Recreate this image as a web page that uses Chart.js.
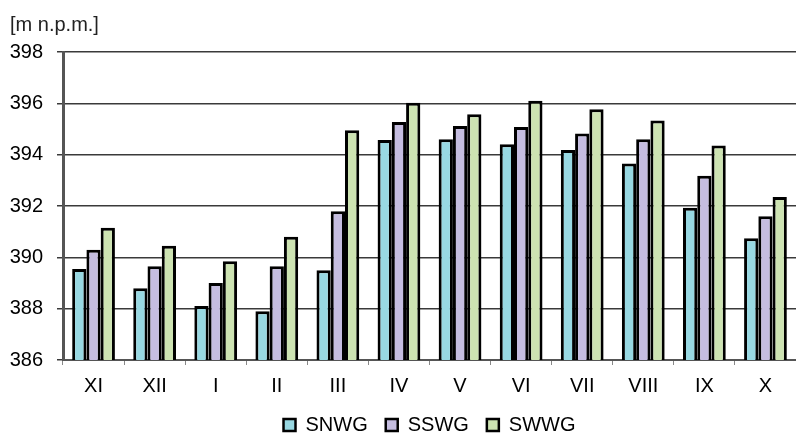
<!DOCTYPE html>
<html lang="pl">
<head>
<meta charset="UTF-8">
<title>Poziom wód</title>
<script src="https://cdn.jsdelivr.net/npm/chart.js"></script>
<style>
  html, body { margin: 0; padding: 0; background: #fff; }
  #wrap { width: 796px; height: 436px; }
</style>
</head>
<body>
<div id="wrap"><canvas id="wykres"></canvas></div>
<script>
  // miesiace roku hydrologicznego
  const miesiace = ['XI', 'XII', 'I', 'II', 'III', 'IV', 'V', 'VI', 'VII', 'VIII', 'IX', 'X'];

  // rzedne zwierciadla [m n.p.m.]
  const snwg = [389.55, 388.8, 388.1, 387.9, 389.5, 394.57, 394.6, 394.41, 394.18, 393.66, 391.93, 390.74];
  const sswg = [390.3, 389.65, 389.0, 389.65, 391.8, 395.27, 395.12, 395.08, 394.82, 394.6, 393.18, 391.6];
  const swwg = [391.15, 390.45, 389.85, 390.8, 394.95, 396.02, 395.57, 396.1, 395.77, 395.33, 394.36, 392.35];

  const czcionka = 'Liberation Sans, Arial, sans-serif';

  new Chart(document.getElementById('wykres'), {
    type: 'bar',
    data: {
      labels: miesiace,
      datasets: [
        { label: 'SNWG', data: snwg, backgroundColor: '#98d8e2' },
        { label: 'SSWG', data: sswg, backgroundColor: '#c5bde0' },
        { label: 'SWWG', data: swwg, backgroundColor: '#cde3b2' }
      ]
    },
    options: {
      responsive: true,
      maintainAspectRatio: false,
      animation: false,
      layout: { padding: { left: 10, right: 0, top: 0, bottom: -9 } },
      datasets: {
        bar: {
          borderColor: '#000',
          borderWidth: 3,
          borderSkipped: false,
          categoryPercentage: 0.7,
          barPercentage: 1.0
        }
      },
      scales: {
        x: {
          afterFit: (s) => { s.height = 37; },
          border: { color: '#555', width: 2 },
          grid: {
            offset: true,
            drawOnChartArea: false,
            drawTicks: true,
            tickLength: 5,
            color: '#888'
          },
          ticks: { color: '#000', padding: 9, font: { family: czcionka, size: 20 } }
        },
        y: {
          min: 386,
          max: 398,
          afterFit: (s) => { s.width = 53; },
          border: { color: '#555', width: 3 },
          grid: { color: '#3a3a3a', lineWidth: 1.5, tickLength: 6 },
          ticks: { stepSize: 2, color: '#000', padding: 14, font: { family: czcionka, size: 20 } }
        }
      },
      plugins: {
        title: {
          display: true,
          text: '[m n.p.m.]',
          align: 'start',
          color: '#222',
          font: { family: czcionka, size: 20, weight: 'normal' },
          padding: { top: 13, bottom: 15 }
        },
        legend: {
          position: 'bottom',
          fullSize: false,
          labels: {
            color: '#000',
            boxWidth: 12,
            boxHeight: 12,
            padding: 18,
            font: { family: czcionka, size: 20 }
          }
        },
        tooltip: { enabled: false }
      }
    },
    plugins: [{
      // obramowanie kwadracikow legendy
      id: 'ramkaLegendy',
      beforeInit(chart) {
        chart.options.plugins.legend.labels.generateLabels = (c) =>
          Chart.defaults.plugins.legend.labels.generateLabels(c).map((it) => ({
            ...it, strokeStyle: '#000', lineWidth: 2.5
          }));
      }
    }]
  });
</script>
</body>
</html>
